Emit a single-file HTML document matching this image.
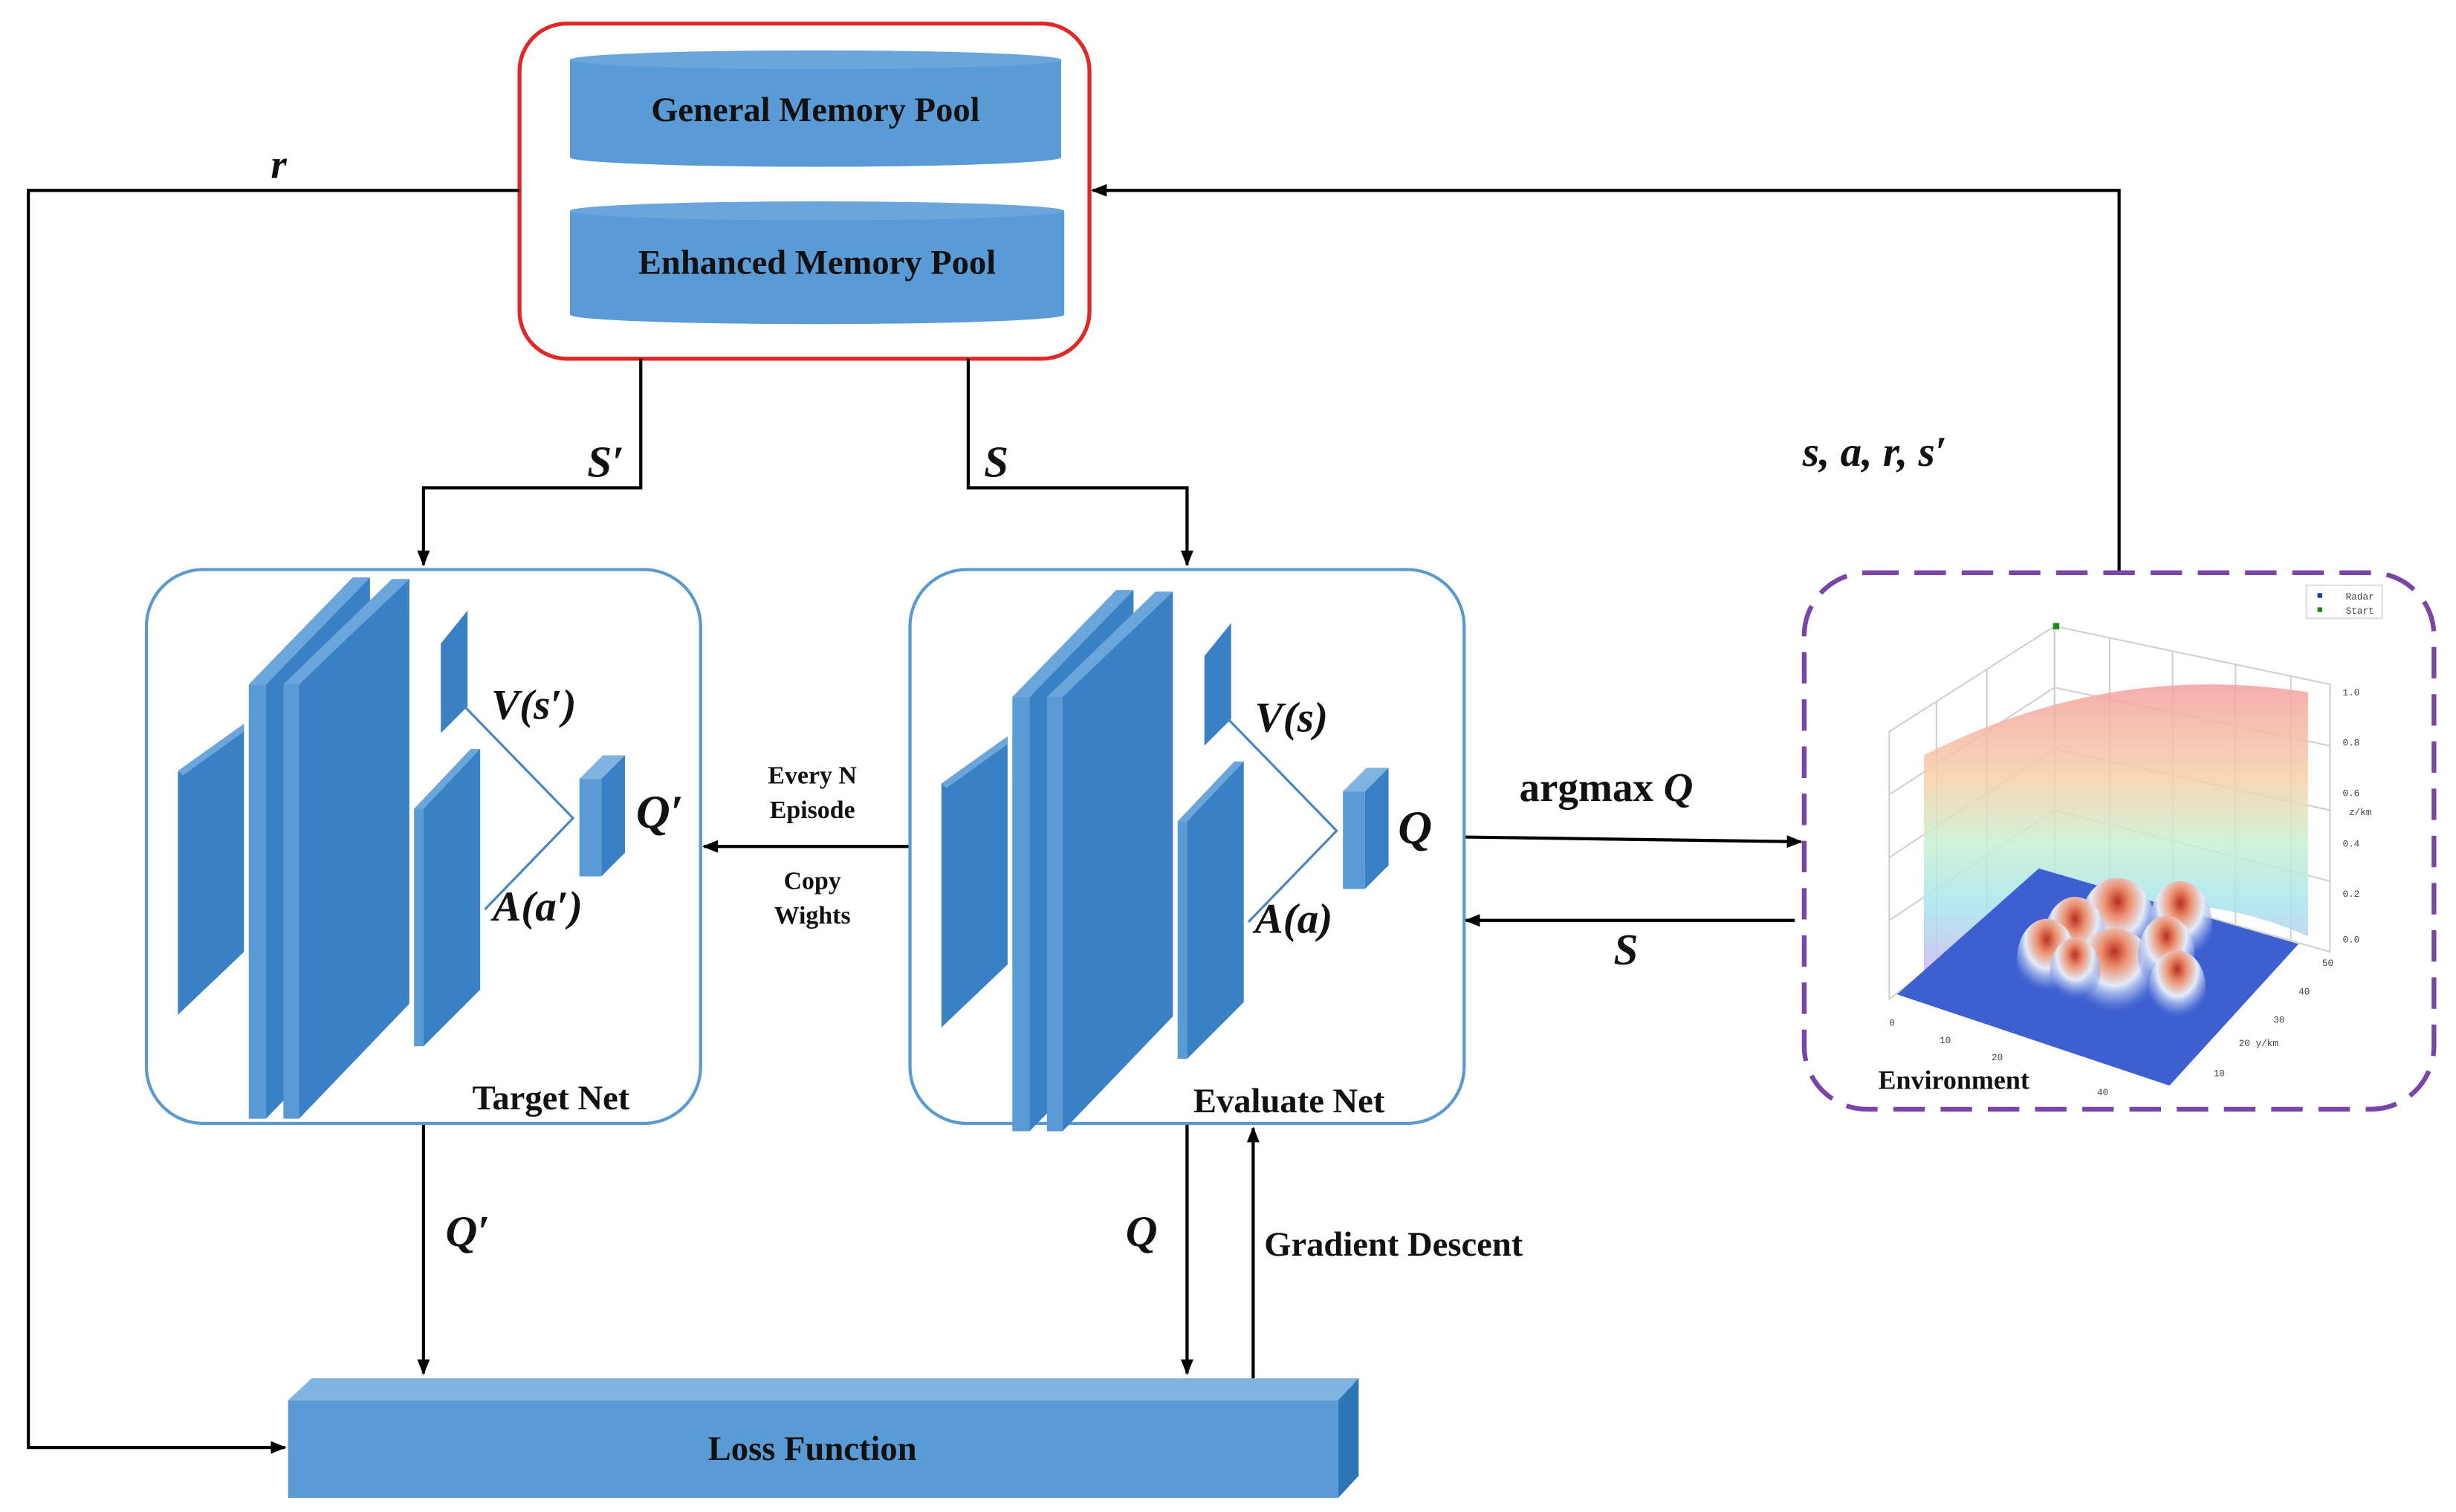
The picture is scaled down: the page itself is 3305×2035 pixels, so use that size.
<!DOCTYPE html>
<html><head><meta charset="utf-8"><style>html,body{margin:0;padding:0;background:#fff}svg{display:block}</style></head>
<body>
<svg width="3305" height="2035" viewBox="0 0 1560 961" preserveAspectRatio="none" xmlns="http://www.w3.org/2000/svg" font-family="Liberation Serif, serif" font-weight="bold">
<defs>
<marker id="ar" markerWidth="10" markerHeight="8" refX="9" refY="4" orient="auto" markerUnits="userSpaceOnUse"><path d="M0,0 L10,4 L0,8 Z" fill="#000"/></marker>
<linearGradient id="wall" x1="0" y1="0" x2="0" y2="1">
<stop offset="0" stop-color="#f4a0a0"/><stop offset="0.3" stop-color="#f6d0a8"/><stop offset="0.5" stop-color="#c8f0d0"/><stop offset="0.7" stop-color="#a8e4ee"/><stop offset="1" stop-color="#d8a8ee"/></linearGradient>
<radialGradient id="pk" cx="0.5" cy="0.25" r="0.65"><stop offset="0" stop-color="#b83020"/><stop offset="0.25" stop-color="#ec9070"/><stop offset="0.55" stop-color="#e4ecf8"/><stop offset="0.8" stop-color="#90a8e8" stop-opacity="0.6"/><stop offset="1" stop-color="#4a6ad8" stop-opacity="0"/></radialGradient>
<g id="net">
<polygon points="113,490 155,460 155,605 113,645" fill="#3a80c4"/>
<polygon points="113,490 155,460 155,465 116,493" fill="#6aa6dc"/>
<polygon points="158,435 224,367 235,367 169,435" fill="#6aa6dc"/>
<rect x="158" y="435" width="11" height="276" fill="#5b9bd5"/>
<polygon points="169,435 235,367 235,643 169,711" fill="#3a80c4"/>
<polygon points="180,435 249,368 260,368 190,435" fill="#6aa6dc"/>
<rect x="180" y="435" width="10" height="276" fill="#5b9bd5"/>
<polygon points="190,435 260,368 260,638 190,711" fill="#3a80c4"/>
<polygon points="280,409 297,388 297,449 280,466" fill="#3a80c4"/>
<polygon points="263,514 299,476 305,476 269,514" fill="#6aa6dc"/>
<rect x="263" y="514" width="6" height="151" fill="#5b9bd5"/>
<polygon points="269,514 305,476 305,629 269,665" fill="#3a80c4"/>
<polyline points="296,450 364,520 308,578" fill="none" stroke="#4a86c0" stroke-width="1.5"/>
<polygon points="368,495 383,480 397,480 382,495" fill="#7fb3e0"/>
<rect x="368" y="495" width="14" height="62" fill="#5b9bd5"/>
<polygon points="382,495 397,480 397,542 382,557" fill="#3a80c4"/>
</g>
</defs>

<rect x="330" y="15" width="362" height="213" rx="30" fill="#fff" stroke="#e02828" stroke-width="2.5"/>
<rect x="362" y="38" width="312" height="62" fill="#5b9bd5"/>
<ellipse cx="518" cy="38" rx="156" ry="6" fill="#6aa6dc"/>
<ellipse cx="518" cy="100" rx="156" ry="6" fill="#5b9bd5"/>
<rect x="362" y="134" width="314" height="66" fill="#5b9bd5"/>
<ellipse cx="519" cy="134" rx="157" ry="6" fill="#6aa6dc"/>
<ellipse cx="519" cy="200" rx="157" ry="6" fill="#5b9bd5"/>
<text x="518" y="77" font-size="22" text-anchor="middle" fill="#111">General Memory Pool</text>
<text x="519" y="174" font-size="22" text-anchor="middle" fill="#111">Enhanced Memory Pool</text>

<g stroke="#000" stroke-width="2" fill="none">
<polyline points="330,121 18,121 18,920 181,920" marker-end="url(#ar)"/>
<polyline points="1346,363 1346,121 694,121" marker-end="url(#ar)"/>
<polyline points="407,228 407,310 269,310 269,359" marker-end="url(#ar)"/>
<polyline points="615,228 615,310 754,310 754,359" marker-end="url(#ar)"/>
<line x1="578" y1="538" x2="447" y2="538" marker-end="url(#ar)"/>
<line x1="930" y1="532" x2="1144" y2="535" marker-end="url(#ar)"/>
<line x1="1140" y1="585" x2="931" y2="585" marker-end="url(#ar)"/>
<line x1="269" y1="714" x2="269" y2="873" marker-end="url(#ar)"/>
<line x1="754" y1="714" x2="754" y2="873" marker-end="url(#ar)"/>
<line x1="796" y1="876" x2="796" y2="717" marker-end="url(#ar)"/>
</g>
<text x="172" y="113" font-size="26" font-style="italic" fill="#111">r</text>
<text x="373" y="303" font-size="28" font-style="italic" fill="#111">S′</text>
<text x="625" y="303" font-size="28" font-style="italic" fill="#111">S</text>
<text x="1145" y="296" font-size="27" font-style="italic" fill="#111">s, a, r, s′</text>

<rect x="93" y="362" width="352" height="352" rx="36" fill="#fff" stroke="#5a9ad0" stroke-width="2"/>
<use href="#net"/>
<text x="312" y="457" font-size="27" font-style="italic" fill="#111">V(s′)</text>
<text x="404" y="526" font-size="30" font-style="italic" fill="#111">Q′</text>
<text x="313" y="585" font-size="27" font-style="italic" fill="#111">A(a′)</text>
<text x="300" y="705" font-size="22" fill="#111">Target Net</text>

<rect x="578" y="362" width="352" height="352" rx="36" fill="#fff" stroke="#5a9ad0" stroke-width="2"/>
<use href="#net" transform="translate(485,8)"/>
<text x="797" y="465" font-size="27" font-style="italic" fill="#111">V(s)</text>
<text x="888" y="536" font-size="30" font-style="italic" fill="#111">Q</text>
<text x="797" y="593" font-size="27" font-style="italic" fill="#111">A(a)</text>
<text x="758" y="707" font-size="22" fill="#111">Evaluate Net</text>

<g font-size="16" text-anchor="middle" fill="#111">
<text x="516" y="498">Every N</text><text x="516" y="520">Episode</text>
<text x="516" y="565">Copy</text><text x="516" y="587">Wights</text></g>
<text x="965" y="509" font-size="26" fill="#111">argmax <tspan font-style="italic">Q</tspan></text>
<text x="1025" y="613" font-size="28" font-style="italic" fill="#111">S</text>
<text x="283" y="792" font-size="28" font-style="italic" fill="#111">Q′</text>
<text x="715" y="792" font-size="28" font-style="italic" fill="#111">Q</text>
<text x="803" y="798" font-size="22" fill="#111">Gradient Descent</text>

<polygon points="183,890 198,876 863,876 850,890" fill="#7fb3e0"/>
<rect x="183" y="890" width="667" height="62" fill="#5b9bd5"/>
<polygon points="850,890 863,876 863,938 850,952" fill="#2e75b6"/>
<text x="516" y="928" font-size="22" text-anchor="middle" fill="#111">Loss Function</text>

<rect x="1146" y="364" width="400" height="341" rx="40" fill="#fff" stroke="#7a45a8" stroke-width="3" stroke-dasharray="20 10"/>
<g stroke="#d0d0d0" stroke-width="1" fill="none">
<polygon points="1200,465 1305,398 1305,555 1200,635"/>
<polygon points="1305,398 1480,435 1480,605 1305,555"/>
<line x1="1230" y1="445" x2="1230" y2="612"/><line x1="1262" y1="425" x2="1262" y2="588"/>
<line x1="1340" y1="405" x2="1340" y2="565"/><line x1="1380" y1="414" x2="1380" y2="576"/><line x1="1420" y1="422" x2="1420" y2="587"/><line x1="1455" y1="430" x2="1455" y2="598"/>
<line x1="1200" y1="505" x2="1305" y2="437"/><line x1="1200" y1="545" x2="1305" y2="476"/><line x1="1200" y1="585" x2="1305" y2="515"/>
<line x1="1305" y1="437" x2="1480" y2="474"/><line x1="1305" y1="476" x2="1480" y2="515"/><line x1="1305" y1="515" x2="1480" y2="560"/>
</g>
<path d="M1222,480 Q1340,420 1466,440 L1466,595 Q1340,540 1222,635 Z" fill="url(#wall)" opacity="0.85"/>
<polygon points="1205,632 1295,552 1460,600 1378,690" fill="#3e5fd0"/>
<g>
<ellipse cx="1345" cy="588" rx="24" ry="30" fill="url(#pk)"/>
<ellipse cx="1385" cy="588" rx="20" ry="28" fill="url(#pk)"/>
<ellipse cx="1318" cy="598" rx="20" ry="28" fill="url(#pk)"/>
<ellipse cx="1300" cy="610" rx="19" ry="26" fill="url(#pk)"/>
<ellipse cx="1343" cy="620" rx="26" ry="30" fill="url(#pk)"/>
<ellipse cx="1376" cy="608" rx="18" ry="26" fill="url(#pk)"/>
<ellipse cx="1383" cy="628" rx="18" ry="24" fill="url(#pk)"/>
<ellipse cx="1318" cy="618" rx="16" ry="22" fill="url(#pk)"/>
</g>
<rect x="1304" y="396" width="4" height="4" fill="#1a8a1a"/>
<rect x="1465" y="372" width="48" height="21" fill="#fff" stroke="#ddd"/>
<g font-family="Liberation Mono, monospace" font-weight="normal" font-size="6" fill="#444">
<text x="1490" y="381">Radar</text><text x="1490" y="390">Start</text>
<text x="1488" y="442">1.0</text><text x="1488" y="474">0.8</text><text x="1488" y="506">0.6</text><text x="1492" y="518">z/km</text><text x="1488" y="538">0.4</text><text x="1488" y="570">0.2</text><text x="1488" y="599">0.0</text>
<text x="1475" y="614">50</text><text x="1460" y="632">40</text><text x="1444" y="650">30</text><text x="1422" y="665">20 y/km</text><text x="1406" y="684">10</text>
<text x="1200" y="652">0</text><text x="1232" y="663">10</text><text x="1265" y="674">20</text><text x="1332" y="696">40</text></g>
<rect x="1472" y="377" width="3" height="3" fill="#2030c0"/><rect x="1472" y="386" width="3" height="3" fill="#1a8a1a"/>
<text x="1193" y="692" font-size="17" fill="#111">Environment</text>
</svg>
</body></html>
